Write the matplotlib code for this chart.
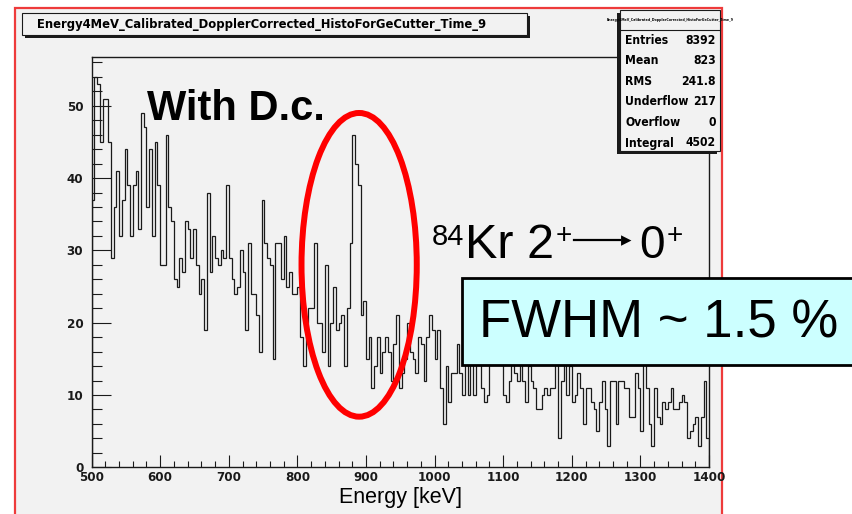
import matplotlib.pyplot as plt
import numpy as np
from matplotlib import font_manager
from matplotlib.font_manager import FontProperties
from matplotlib.patches import Rectangle, Ellipse
from matplotlib.ticker import MultipleLocator

W, H = 853, 514

# counts per 4 keV bin (one list per 100 keV)
counts_500_600 = [37, 54, 53, 45, 51, 51, 45, 29, 36, 41, 32, 37, 44, 39, 32, 39, 41, 33, 49, 47, 36, 44, 32, 45, 39]
counts_600_700 = [28, 28, 46, 36, 34, 26, 25, 29, 27, 34, 33, 29, 33, 28, 24, 26, 19, 38, 27, 32, 29, 28, 30, 29, 39]
counts_700_800 = [29, 26, 24, 25, 30, 27, 19, 31, 24, 24, 21, 16, 37, 31, 29, 28, 15, 31, 31, 26, 32, 25, 27, 24, 24]
counts_800_900 = [25, 18, 14, 20, 22, 22, 31, 20, 20, 16, 28, 14, 20, 25, 19, 20, 21, 14, 22, 31, 46, 42, 39, 21, 23]
counts_900_1000 = [15, 18, 11, 14, 18, 13, 16, 18, 16, 12, 17, 21, 11, 13, 15, 20, 16, 15, 13, 18, 17, 12, 18, 21, 19]
counts_1000_1100 = [15, 19, 11, 6, 14, 9, 13, 13, 17, 13, 10, 15, 10, 16, 10, 16, 15, 11, 9, 10, 16, 15, 17, 15, 16]
counts_1100_1200 = [10, 9, 12, 15, 13, 12, 15, 12, 9, 14, 12, 11, 8, 8, 10, 11, 10, 11, 11, 15, 4, 12, 15, 10, 14]
counts_1200_1300 = [9, 10, 13, 11, 6, 11, 11, 9, 8, 5, 9, 12, 8, 3, 12, 12, 6, 12, 12, 11, 11, 7, 7, 13, 11]
counts_1300_1400 = [5, 15, 11, 6, 3, 11, 7, 6, 9, 8, 9, 11, 8, 8, 9, 10, 9, 4, 5, 6, 7, 3, 7, 12, 4]

bin_width = 4
e_min, e_max = 500, 1400
x_ticks = [500, 600, 700, 800, 900, 1000, 1100, 1200, 1300, 1400]
y_ticks = [0, 10, 20, 30, 40, 50]

hist_name = "Energy4MeV_Calibrated_DopplerCorrected_HistoForGeCutter_Time_9"
stats_names = ["Entries", "Mean", "RMS", "Underflow", "Overflow", "Integral"]
stats_values = ["8392", "823", "241.8", "217", "0", "4502"]

counts = np.array(counts_500_600 + counts_600_700 + counts_700_800 + counts_800_900
                  + counts_900_1000 + counts_1000_1100 + counts_1100_1200
                  + counts_1200_1300 + counts_1300_1400)
edges = np.arange(e_min, e_max + bin_width, bin_width)

plt.rcParams['font.family'] = ['Liberation Sans', 'DejaVu Sans']

# ROOT uses a condensed bold Helvetica; take a narrow font if one is installed
narrow_files = [f.fname for f in font_manager.fontManager.ttflist
                if ('Narrow' in f.fname or 'Condensed' in f.fname)
                and f.weight in (700, 'bold') and f.style == 'normal']
if narrow_files:
    narrow_files.sort(key=lambda p: ('Liberation' not in p, p))
    root_font = dict(fname=narrow_files[0])
    scale = 1.0
else:
    root_font = dict(family=['Liberation Sans', 'DejaVu Sans'], weight='bold')
    scale = 0.85


def rootfp(size):
    return FontProperties(size=size * scale, **root_font)


fig = plt.figure(figsize=(W / 100, H / 100), dpi=100)
fig.patch.set_facecolor('white')


# helpers: pixel position (from top-left) -> figure fraction
def fx(x):
    return x / W


def fy(y):
    return 1 - y / H


canvas_grey = '#f2f2f2'
ink = '#1a1a1a'

# ROOT canvas with red frame
fig.patches.append(Rectangle((fx(15), fy(530)), (722 - 15) / W, (530 - 8) / H,
                             transform=fig.transFigure, facecolor=canvas_grey,
                             edgecolor='#ee3b3b', lw=1.6, zorder=-10))

ax = fig.add_axes([fx(91.6), fy(467.3), (709 - 91.6) / W, (467.3 - 57.3) / H])
ax.set_zorder(1)
ax.set_facecolor(canvas_grey)
ax.stairs(counts, edges, color=ink, lw=0.9)
ax.set_xlim(e_min, e_max)
ax.set_ylim(0, 1.05 * counts.max())

ax.set_xticks(x_ticks)
ax.set_yticks(y_ticks)
ax.xaxis.set_minor_locator(MultipleLocator(20))
ax.yaxis.set_minor_locator(MultipleLocator(2))
ax.tick_params(axis='x', which='major', direction='in', length=8.6, width=0.8, pad=3, colors=ink)
ax.tick_params(axis='x', which='minor', direction='in', length=4.3, width=0.8, colors=ink)
ax.tick_params(axis='y', which='major', direction='in', length=13.7, width=0.8, pad=6, colors=ink)
ax.tick_params(axis='y', which='minor', direction='in', length=7.2, width=0.8, colors=ink)
for lab in ax.get_xticklabels() + ax.get_yticklabels():
    lab.set_fontproperties(rootfp(9.5))
for sp in ax.spines.values():
    sp.set_linewidth(1.0)
    sp.set_color(ink)

ax.set_xlabel("Energy [keV]", fontsize=15.5, labelpad=2)

# red ellipse around the 882 keV line
ax.add_patch(Ellipse((890, 28), 168, 42, fill=False, edgecolor='red', lw=4.3, clip_on=False, zorder=5))

# title box with shadow
fig.patches.append(Rectangle((fx(25), fy(38)), (530 - 25) / W, (38 - 16) / H,
                             transform=fig.transFigure, facecolor=ink, lw=0, zorder=2))
fig.patches.append(Rectangle((fx(22), fy(35)), (527 - 22) / W, (35 - 13) / H,
                             transform=fig.transFigure, facecolor=canvas_grey,
                             edgecolor=ink, lw=0.8, zorder=3))
fig.text(fx(262), fy(24), hist_name, ha='center', va='center', fontproperties=rootfp(9.3), zorder=4)

# stats box
fig.patches.append(Rectangle((fx(617), fy(154)), (717 - 617) / W, (154 - 13) / H,
                             transform=fig.transFigure, facecolor=ink, lw=0, zorder=2))
fig.patches.append(Rectangle((fx(620), fy(151)), (720 - 620) / W, (151 - 10) / H,
                             transform=fig.transFigure, facecolor=canvas_grey,
                             edgecolor=ink, lw=0.8, zorder=3))
fig.add_artist(plt.Line2D([fx(620), fx(720)], [fy(30), fy(30)], transform=fig.transFigure,
                          color=ink, lw=0.8, zorder=4))
fig.text(fx(670), fy(20), hist_name, ha='center', va='center', fontproperties=rootfp(2.6), zorder=4)
for k, (name, val) in enumerate(zip(stats_names, stats_values)):
    yy = 40 + k * 20.6
    fig.text(fx(625), fy(yy), name, ha='left', va='center', fontproperties=rootfp(8.7), zorder=4)
    fig.text(fx(716), fy(yy), val, ha='right', va='center', fontproperties=rootfp(8.7), zorder=4)

# annotations
fig.text(fx(147), fy(109), "With D.c.", ha='left', va='center', fontsize=30, fontweight='bold', zorder=6)
fig.text(fx(432), fy(245), "84", ha='left', va='baseline', fontsize=21, zorder=6)
fig.text(fx(465), fy(258), "Kr 2", ha='left', va='baseline', fontsize=35, zorder=6)
fig.text(fx(556), fy(243), "+", ha='left', va='baseline', fontsize=20, zorder=6)
fig.add_artist(plt.Line2D([fx(574), fx(620)], [fy(240), fy(240)], transform=fig.transFigure,
                          color='black', lw=1.6, zorder=6))
fig.text(fx(626), fy(240), u"\u25B8", ha='center', va='center', fontsize=15, zorder=6,
         family=['DejaVu Sans'])
fig.text(fx(639), fy(258), "0", ha='left', va='baseline', fontsize=33, zorder=6)
fig.text(fx(667), fy(243), "+", ha='left', va='baseline', fontsize=20, zorder=6)

# FWHM box
fig.patches.append(Rectangle((fx(462), fy(365)), (870 - 462) / W, (365 - 278) / H,
                             transform=fig.transFigure, facecolor='#ccffff',
                             edgecolor='black', lw=2, zorder=7))
fig.text(fx(479), fy(324), "FWHM ~ 1.5 %", ha='left', va='center', fontsize=38, zorder=8)

fig.savefig("out.png", dpi=100)
